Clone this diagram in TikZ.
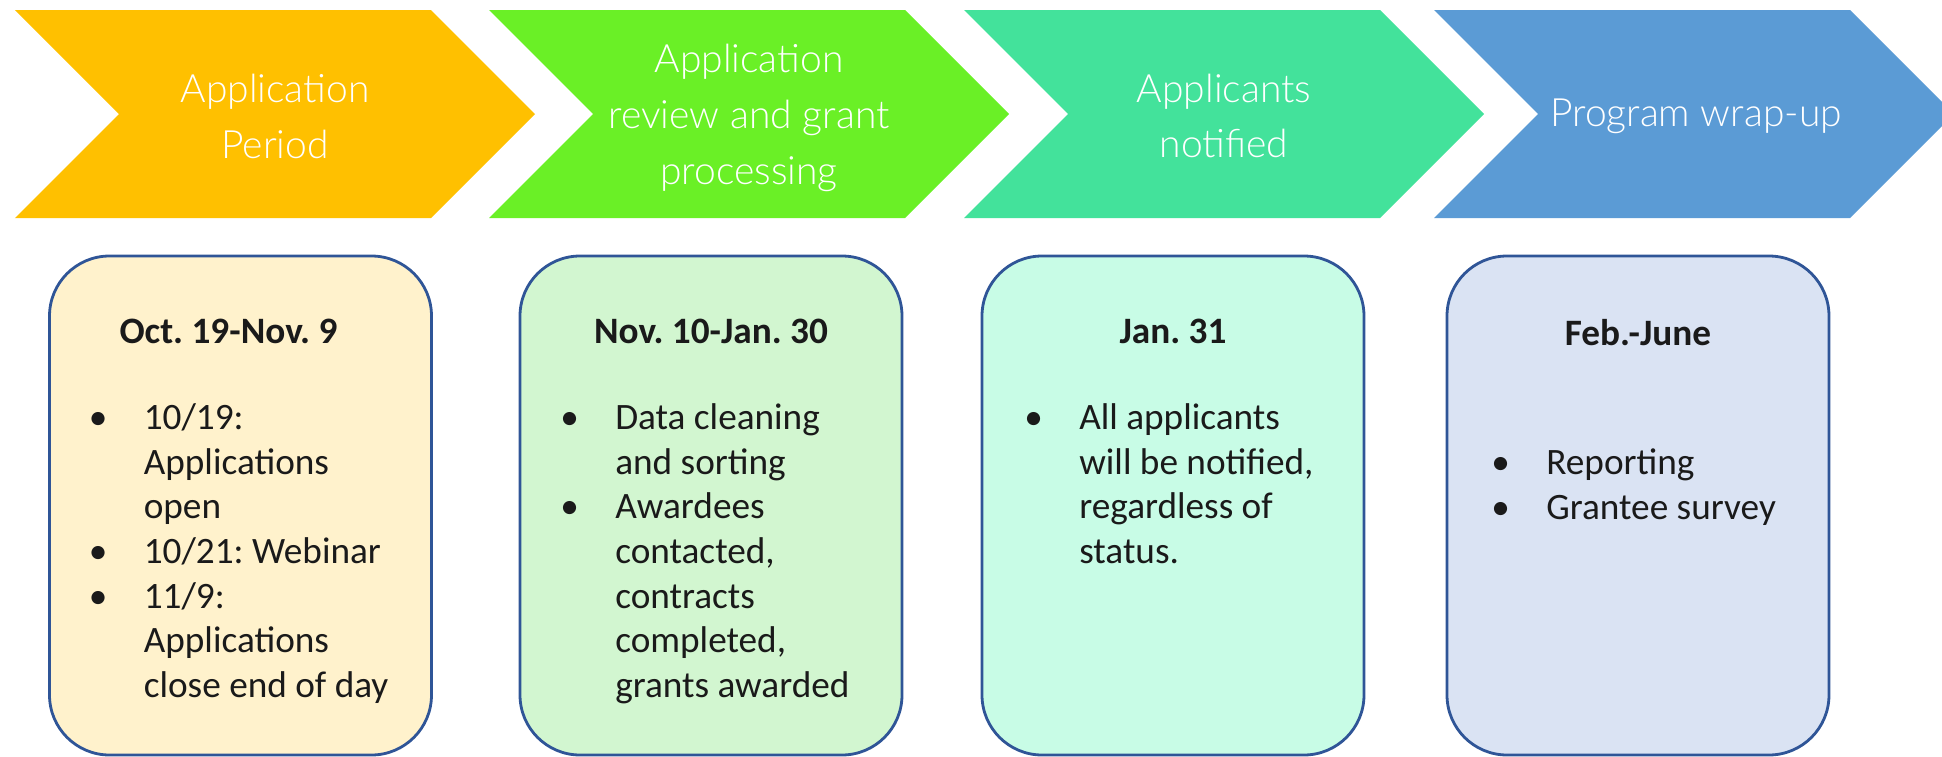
\documentclass[tikz,border=0pt]{standalone}
\usepackage{fontspec}
\setmainfont{Carlito}
\newfontfamily\chevfont{Lato Light}
\usepackage{tikz}
\usetikzlibrary{positioning}
\usepackage{xcolor}
\frenchspacing

\definecolor{appyellow}{HTML}{FFC000}
\definecolor{appgreen}{HTML}{6AF026}
\definecolor{appmint}{HTML}{43E29B}
\definecolor{appblue}{HTML}{5B9BD5}
\definecolor{boxyellow}{HTML}{FFF2CC}
\definecolor{boxgreen}{HTML}{D2F6D0}
\definecolor{boxmint}{HTML}{C8FCE6}
\definecolor{boxblue}{HTML}{DAE3F3}
\definecolor{boxline}{HTML}{2F5597}
\definecolor{textdark}{HTML}{1A1A1A}

\tikzset{
	stage/.style={text=white,align=center,inner sep=0pt,font=\chevfont\fontsize{11.1}{15.9}\selectfont},
	datebox/.style={draw=boxline,line width=0.8pt,rounded corners=0.6cm,minimum width=3.82cm,minimum height=4.99cm,inner sep=0pt},
	datehead/.style={text=textdark,inner sep=0pt,font=\bfseries\fontsize{10.6}{12.7}\selectfont},
	tasklist/.style={anchor=base west,text=textdark,inner sep=0pt,font=\fontsize{10.6}{12.7}\selectfont}
}
\newcommand{\tasks}[1]{\begin{tabular}[t]{@{}p{0.55cm}@{}l@{}}#1\end{tabular}}

\begin{document}
\begin{tikzpicture}
	\useasboundingbox (0,0) rectangle (19.42,-7.56);
	% chevrons
	\foreach \x/\col in {0.15/appyellow,4.89/appgreen,9.64/appmint,14.34/appblue}
		\fill[\col] (\x,-0.10) -- ++(4.16,0) -- ++(1.04,-1.04) -- ++(-1.04,-1.04) -- ++(-4.16,0) -- ++(1.04,1.04) -- cycle;
	\node[stage] (s1) at (2.75,-1.16) {Application\\Period};
	\node[stage] (s2) at (7.49,-1.18) {Application\\review and grant\\processing};
	\node[stage] (s3) at (12.24,-1.16) {Applicants\\notified};
	\node[stage] (s4) at (16.96,-1.16) {Program wrap-up};
	% boxes
	\node[datebox,fill=boxyellow] (b1) at (2.405,-5.055) {};
	\node[datebox,fill=boxgreen] (b2) at (7.11,-5.055) {};
	\node[datebox,fill=boxmint] (b3) at (11.73,-5.055) {};
	\node[datebox,fill=boxblue] (b4) at (16.38,-5.055) {};
	
	\node[datehead,below=0.64cm of b1.north,xshift=-0.12cm] (h1) {Oct. 19-Nov. 9};
	\node[datehead,below=0.64cm of b2.north] (h2) {Nov. 10-Jan. 30};
	\node[datehead,below=0.64cm of b3.north] (h3) {Jan. 31};
	\node[datehead,below=0.64cm of b4.north] (h4) {Feb.-June};
	
	\node[tasklist] (l1) at ([xshift=0.40cm,yshift=-1.75cm]b1.north west) {\tasks{
		\textbullet & 10/19:\\ & Applications\\ & open\\
		\textbullet & 10/21: Webinar\\
		\textbullet & 11/9:\\ & Applications\\ & close end of day}};
	\node[tasklist] (l2) at ([xshift=0.41cm,yshift=-1.75cm]b2.north west) {\tasks{
		\textbullet & Data cleaning\\ & and sorting\\
		\textbullet & Awardees\\ & contacted,\\ & contracts\\ & completed,\\ & grants awarded}};
	\node[tasklist] (l3) at ([xshift=0.43cm,yshift=-1.75cm]b3.north west) {\tasks{
		\textbullet & All applicants\\ & will be notified,\\ & regardless of\\ & status.}};
	\node[tasklist] (l4) at ([xshift=0.45cm,yshift=-2.20cm]b4.north west) {\tasks{
		\textbullet & Reporting\\
		\textbullet & Grantee survey}};
\end{tikzpicture}
\end{document}
